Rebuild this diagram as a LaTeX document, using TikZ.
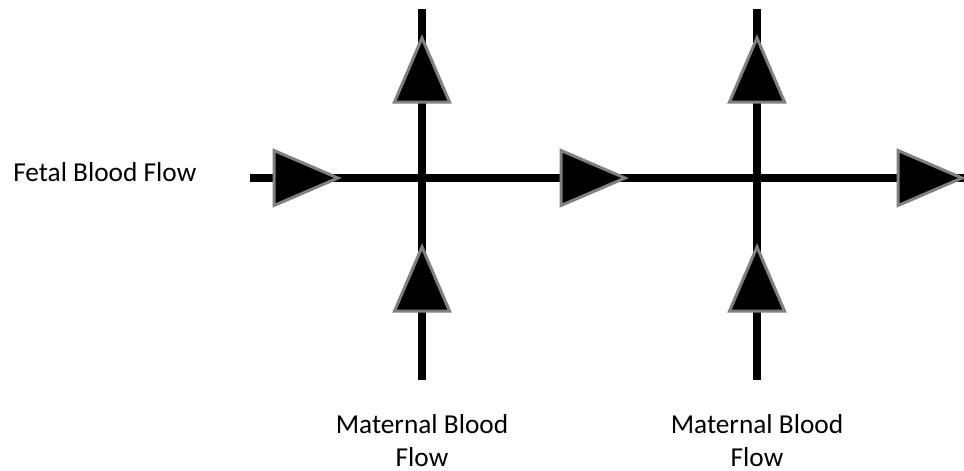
\documentclass[tikz,border=0pt]{standalone}
\usepackage{fontspec}
\setmainfont{Carlito}
\usetikzlibrary{positioning,shapes.geometric}

\begin{document}
\begin{tikzpicture}[x=0.75pt,y=-0.75pt,font=\fontsize{20.5}{24.75}\selectfont,inner sep=0pt,
  flow/.style={line width=6.4pt},
  tri/.style={isosceles triangle,isosceles triangle stretches,minimum height=48pt,
    minimum width=41.25pt,fill=black,draw=gray,line width=2.25pt,outer sep=0pt,anchor=apex}]
  \useasboundingbox (0,0) rectangle (964,471);
  % line ends
  \coordinate (fetalin) at (250,178);
  \coordinate (fetalout) at (964,178);
  \coordinate (matAtop) at (422,9);
  \coordinate (matAbot) at (422,380);
  \coordinate (matBtop) at (757,9);
  \coordinate (matBbot) at (757,380);
  \draw[flow] (fetalin) -- (fetalout);
  \draw[flow] (matAbot) -- (matAtop);
  \draw[flow] (matBbot) -- (matBtop);
  % flow direction
  \node[tri] (fetalA) at (338,178) {};
  \node[tri] (fetalB) at (625,178) {};
  \node[tri] (fetalC) at (962,178) {};
  \node[tri,rotate=90] (matAup) at (422,38) {};
  \node[tri,rotate=90] (matAlow) at (422,247) {};
  \node[tri,rotate=90] (matBup) at (757,38) {};
  \node[tri,rotate=90] (matBlow) at (757,247) {};
  % labels
  \node[anchor=base west] (fetal) at (13,181) {Fetal Blood Flow};
  \node[below=26pt of matAbot,align=center] (matA) {Maternal Blood\\Flow};
  \node[below=26pt of matBbot,align=center] (matB) {Maternal Blood\\Flow};
\end{tikzpicture}
\end{document}
